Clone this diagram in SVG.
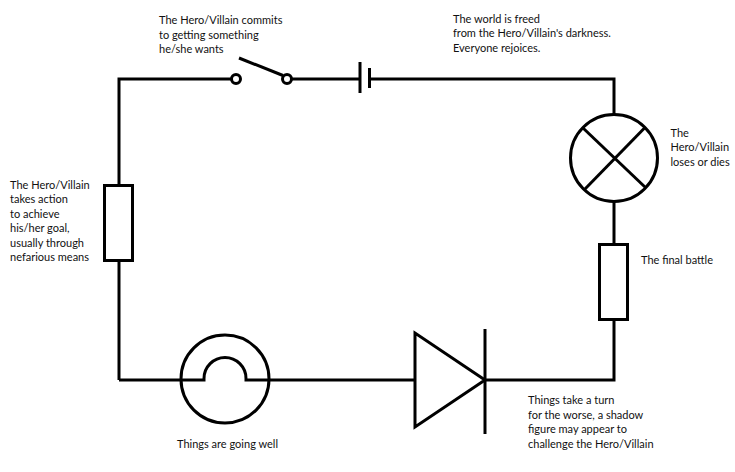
<svg xmlns="http://www.w3.org/2000/svg" width="735" height="472" viewBox="0 0 735 472">
<style>
.w{fill:none;stroke:#000;stroke-width:3;stroke-linecap:butt;stroke-linejoin:miter}
.c{fill:#fff;stroke:#000;stroke-width:3}
text{font-family:Lato,"Liberation Sans",sans-serif;font-size:11px;fill:#111}
</style>
<rect width="735" height="472" fill="#fff"/>
<g id="connectors">
<polyline class="w" points="231.5,79 119,79 119,185"/>
<line class="w" x1="119" y1="261" x2="119" y2="380"/>
<line class="w" x1="119" y1="380" x2="204" y2="380"/>
<line class="w" x1="246" y1="380" x2="415" y2="380"/>
<polyline class="w" points="485,380 614,380 614,320"/>
<line class="w" x1="614" y1="244" x2="614" y2="202"/>
<polyline class="w" points="614,114 614,79 369,79"/>
<line class="w" x1="291" y1="79" x2="360" y2="79"/>
</g>
<g id="switch">
<circle class="c" cx="236" cy="79" r="4.5"/>
<circle class="c" cx="287" cy="79" r="4.5"/>
<line class="w" x1="239" y1="58" x2="283" y2="75.5"/>
<text x="159" y="24">The Hero/Villain commits</text>
<text x="159" y="38.5">to getting something</text>
<text x="159" y="53">he/she wants</text>
</g>
<g id="battery">
<line class="w" x1="360" y1="62" x2="360" y2="93"/>
<line class="w" x1="369.5" y1="68" x2="369.5" y2="88"/>
<text x="453" y="22.5">The world is freed</text>
<text x="453" y="37">from the Hero/Villain's darkness.</text>
<text x="453" y="51.5">Everyone rejoices.</text>
</g>
<g id="lamp">
<circle class="c" cx="614" cy="158" r="43.5"/>
<line class="w" x1="583" y1="128" x2="646" y2="188"/>
<line class="w" x1="645" y1="127.5" x2="585" y2="189"/>
<text x="670.5" y="136.5">The</text>
<text x="670.5" y="151">Hero/Villain</text>
<text x="670.5" y="165.5">loses or dies</text>
</g>
<g id="resistor-right">
<rect class="c" x="599.5" y="244.5" width="28" height="75"/>
<text x="641" y="263.5">The final battle</text>
</g>
<g id="diode">
<polygon class="c" points="415,333 415,427 485,380"/>
<line class="w" x1="485" y1="329" x2="485" y2="434"/>
<text x="528" y="404">Things take a turn</text>
<text x="528" y="418.5">for the worse, a shadow</text>
<text x="528" y="433">figure may appear to</text>
<text x="528" y="447.5">challenge the Hero/Villain</text>
</g>
<g id="bulb">
<circle class="c" cx="225" cy="379" r="44"/>
<path class="w" d="M182,380 H204 V378.5 A21,21 0 0 1 246,378.5 V380 H268"/>
<text x="177" y="448">Things are going well</text>
</g>
<g id="resistor-left">
<rect class="c" x="104.5" y="185.5" width="28" height="75"/>
<text x="10" y="188.5">The Hero/Villain</text>
<text x="10" y="203">takes action</text>
<text x="10" y="217.5">to achieve</text>
<text x="10" y="232">his/her goal,</text>
<text x="10" y="246.5">usually through</text>
<text x="10" y="261">nefarious means</text>
</g>
</svg>
